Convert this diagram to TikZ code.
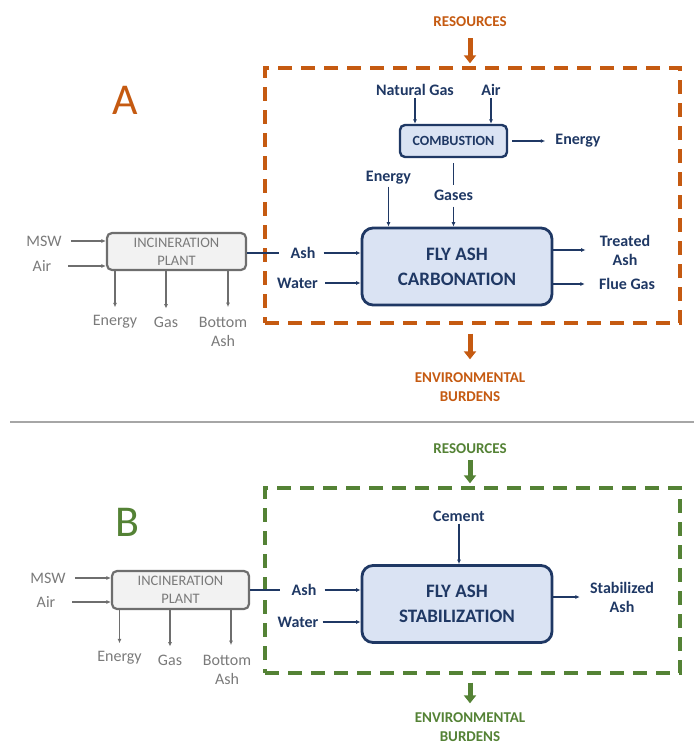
\documentclass[tikz,border=0pt]{standalone}
\usepackage{fontspec}
\setmainfont{Carlito}
\usetikzlibrary{arrows.meta,positioning,calc}
\definecolor{ink}{HTML}{1F3864}
\definecolor{procfill}{HTML}{DAE3F3}
\definecolor{plant}{HTML}{7A7A7A}
\definecolor{plantline}{HTML}{6E6E6E}
\definecolor{plantfill}{HTML}{F2F2F2}
\definecolor{rust}{HTML}{C55A11}
\definecolor{leaf}{HTML}{548235}
\definecolor{rulegrey}{HTML}{A6A6A6}
\tikzset{
  every node/.style={font=\fontsize{16pt}{19pt}\selectfont,text=ink,inner sep=2pt},
  lbl/.style={font=\fontsize{16pt}{19pt}\selectfont\bfseries,align=center},
  glbl/.style={text=plant,align=center},
  reslbl/.style={font=\fontsize{15pt}{19pt}\selectfont\bfseries,align=center},
  caselbl/.style={font=\fontsize{44pt}{48pt}\selectfont},
  procbox/.style={draw=ink,line width=2.8pt,fill=procfill,rounded corners=11pt,minimum width=190pt,minimum height=77pt,align=center,font=\fontsize{19pt}{25pt}\selectfont\bfseries},
  combox/.style={procbox,rounded corners=5pt,line width=2.4pt,minimum width=107pt,minimum height=32pt,font=\fontsize{14pt}{16pt}\selectfont\bfseries},
  incbox/.style={draw=plantline,line width=2.2pt,fill=plantfill,rounded corners=5pt,minimum width=139pt,minimum height=37pt,align=center,text=plant,font=\fontsize{14.5pt}{18pt}\selectfont},
  frame/.style={line width=3.4pt,dash pattern=on 14pt off 9pt,minimum width=415pt},
  bigarrow/.style={-{Triangle[width=12pt,length=8pt]},line width=5pt},
  arrow/.style={-{Latex[length=4.5pt,width=4pt]},line width=1.1pt,draw=ink},
  garrow/.style={arrow,draw=plantline},
  link/.style={line width=1.1pt,draw=ink},
  rulebar/.style={line width=2pt,draw=rulegrey},
}

\begin{document}
\begin{tikzpicture}[x=1pt,y=-1pt]
\useasboundingbox (0,0) rectangle (694,747);

% ---------- A: carbonation ----------
\node[reslbl,text=rust] (resA) at (470,22) {RESOURCES};
\node[caselbl,text=rust] (caseA) at (125,100) {A};
\node[frame,draw=rust,minimum height=255pt] (frameA) at (472.5,195.5) {};
\draw[bigarrow,draw=rust,shorten <=9pt,shorten >=3pt] (resA) -- (resA |- frameA.north);

\node[lbl] (ngA) at (415,90) {Natural Gas};
\node[lbl] (airA) at (491,90) {Air};
\node[combox] (comb) at (453.5,141) {COMBUSTION};
\draw[arrow] (ngA) -- (ngA |- comb.north);
\draw[arrow] (airA) -- (airA |- comb.north);
\node[lbl] (egyC) at (578,141) {Energy};
\draw[arrow,shorten <=4pt,shorten >=8pt] (comb) -- (egyC);

\node[lbl] (egyF) at (388.5,178) {Energy};
\node[lbl] (gasF) at (453.5,195) {Gases};
\node[procbox] (carb) at (457,266.5) {FLY ASH\\CARBONATION};
\draw[arrow] (egyF) -- (egyF |- carb.north);
\draw[link,shorten <=5pt,shorten >=2pt] (comb.south) -- (comb.south |- gasF.north);
\draw[arrow,shorten <=4pt] (comb.south |- gasF.south) -- (comb.south |- carb.north);

\node[lbl] (treat) at (625,250) {Treated\\Ash};
\node[lbl] (flue) at (627,284) {Flue Gas};
\draw[arrow,shorten >=12pt] (carb.east |- treat) -- (treat.west);
\draw[arrow,shorten >=12pt] (carb.east |- flue) -- (flue.west);

\node[lbl] (ashA) at (303,253) {Ash};
\node[lbl] (watA) at (297.5,283) {Water};
\draw[arrow,shorten <=6pt] (ashA) -- (ashA -| carb.west);
\draw[arrow,shorten <=5pt] (watA) -- (watA -| carb.west);

\node[incbox] (incA) at (176.5,251.5) {INCINERATION\\PLANT};
\draw[link,shorten >=9pt] (incA.east |- ashA) -- (ashA.west);
\node[glbl] (mswA) at (44,241) {MSW};
\node[glbl] (airIA) at (42,266) {Air};
\draw[garrow,shorten <=7pt] (mswA) -- (mswA -| incA.west);
\draw[garrow,shorten <=15pt] (airIA) -- (airIA -| incA.west);

\node[glbl] (egyIA) at (115,322) {Energy};
\node[glbl] (gasIA) at (166,322) {Gas};
\node[glbl] (botA) at (223,332) {Bottom\\Ash};
\draw[garrow,shorten >=6pt] (egyIA |- incA.south) -- (egyIA.north);
\draw[garrow,shorten >=6pt] (gasIA |- incA.south) -- (gasIA.north);
\draw[garrow,shorten >=8pt] ([xshift=5pt]botA.north |- incA.south) -- ([xshift=5pt]botA.north);

\node[reslbl,text=rust] (envA) at (470,387) {ENVIRONMENTAL\\BURDENS};
\draw[bigarrow,draw=rust,shorten <=9pt,shorten >=11pt] (frameA.south -| envA) -- (envA.north);

% separator
\coordinate (sepL) at (10,422);
\coordinate (sepR) at (694,422);
\draw[rulebar] (sepL) -- (sepR);

% ---------- B: stabilization ----------
\node[reslbl,text=leaf] (resB) at (470,449) {RESOURCES};
\node[caselbl,text=leaf] (caseB) at (127,522) {B};
\node[frame,draw=leaf,minimum height=185pt] (frameB) at (472.5,580.5) {};
\draw[bigarrow,draw=leaf,shorten <=4pt,shorten >=3pt] (resB) -- (resB |- frameB.north);

\node[lbl] (cem) at (459,516) {Cement};
\node[procbox] (stab) at (457,604) {FLY ASH\\STABILIZATION};
\draw[arrow] (cem) -- (cem |- stab.north);

\node[lbl] (stabAsh) at (622,597) {Stabilized\\Ash};
\draw[arrow,shorten >=8pt] (stab.east |- stabAsh) -- (stabAsh.west);

\node[lbl] (ashB) at (304,590) {Ash};
\node[lbl] (watB) at (298,622) {Water};
\draw[arrow,shorten <=6pt] (ashB) -- (ashB -| stab.west);
\draw[arrow,shorten <=2pt] (watB) -- (watB -| stab.west);

\node[incbox,minimum width=137pt,minimum height=38pt] (incB) at (180.5,590) {INCINERATION\\PLANT};
\draw[link,shorten >=9pt] (incB.east |- ashB) -- (ashB.west);
\node[glbl] (mswB) at (48,578) {MSW};
\node[glbl] (airIB) at (46,602) {Air};
\draw[garrow,shorten <=7pt] (mswB) -- (mswB -| incB.west);
\draw[garrow,shorten <=15pt] (airIB) -- (airIB -| incB.west);

\node[glbl] (egyIB) at (119.5,658) {Energy};
\node[glbl] (gasIB) at (170,660) {Gas};
\node[glbl] (botB) at (227,670) {Bottom\\Ash};
\draw[garrow,shorten >=6pt] (egyIB |- incB.south) -- (egyIB.north);
\draw[garrow,shorten >=6pt] (gasIB |- incB.south) -- (gasIB.north);
\draw[garrow,shorten >=8pt] ([xshift=4pt]botB.north |- incB.south) -- ([xshift=4pt]botB.north);

\node[reslbl,text=leaf] (envB) at (470,727) {ENVIRONMENTAL\\BURDENS};
\draw[bigarrow,draw=leaf,shorten <=8pt,shorten >=7pt] (frameB.south -| envB) -- (envB.north);

\end{tikzpicture}
\end{document}
